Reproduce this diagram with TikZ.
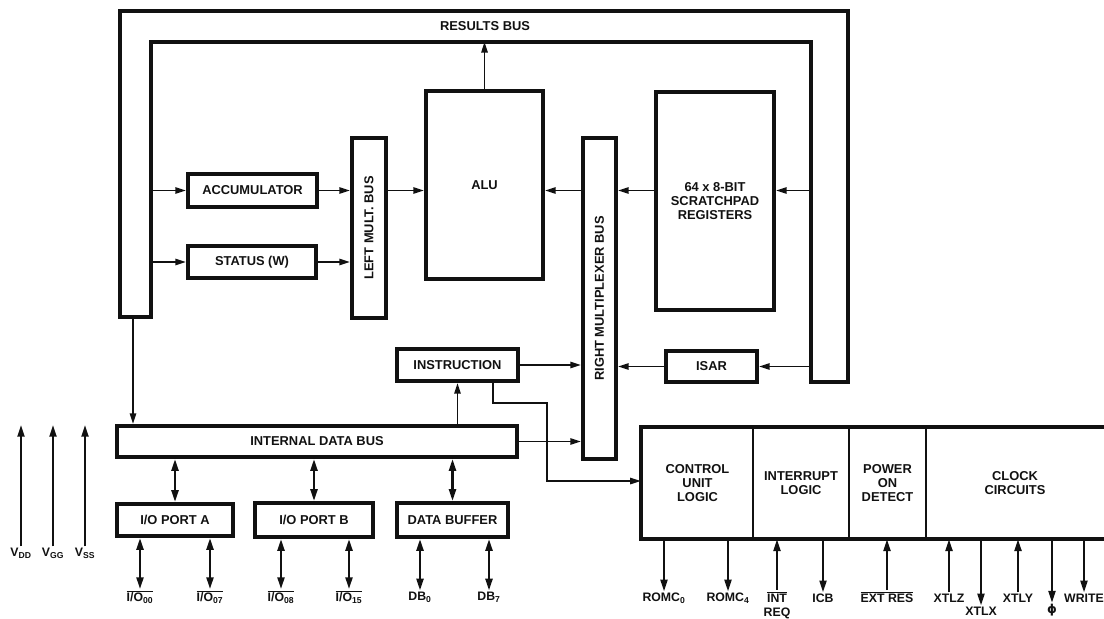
\documentclass[tikz,border=0pt]{standalone}
\usepackage{fontspec}
\setmainfont{Liberation Sans}
\newfontfamily\symfont{DejaVu Sans}
\usepackage{graphicx}
\usetikzlibrary{arrows.meta, positioning}
\definecolor{ink}{HTML}{111111}
\newcommand{\lbl}{\bfseries\fontsize{11}{12}\selectfont}
\newcommand{\pinfont}{\bfseries\fontsize{10.5}{12}\selectfont}
\newcommand{\barlbl}[1]{$\overline{\hbox{#1}}$}
\tikzset{
  blk/.style={draw=ink, line width=3.6pt, inner sep=0pt, align=center, font=\lbl, text=ink},
  sz/.style 2 args={minimum width=#1*0.03cm, minimum height=#2*0.03cm},
  secbox/.style={draw=ink, line width=2.2pt, inner sep=0pt, align=center, font=\lbl, text=ink},
  busline/.style={draw=ink, line width=3.6pt, line join=miter},
  arr/.style={-{Triangle[length=9pt,width=5.5pt]}, line width=1.2pt, draw=ink},
  dbl/.style={{Triangle[length=10pt,width=6pt]}-{Triangle[length=10pt,width=6pt]}, line width=1.9pt, draw=ink},
  pwr/.style={-{Triangle[length=10pt,width=6pt]}, line width=1.7pt, draw=ink},
  pinlbl/.style={font=\pinfont, text=ink, inner sep=1pt, align=center},
}

\begin{document}
\begin{tikzpicture}[x=0.03cm, y=-0.03cm]
  \useasboundingbox (0,0) rectangle (1104,618);

  % results bus
  \draw[busline] (120,317) -- (120,11) -- (848,11) -- (848,382) -- (811,382)
    -- (811,42) -- (151,42) -- (151,317) -- cycle;
  \node[font=\lbl, text=ink] (rbus) at (485,26) {RESULTS BUS};
  \coordinate (lleg) at (151,317);
  \coordinate (lfoot) at (133,317);
  \coordinate (rleg) at (811,382);
  \coordinate (rtop) at (484,42);

  % registers and buses
  \node[blk, sz={129}{33}] (acc) at (252.5,190.5) {ACCUMULATOR};
  \node[blk, sz={128}{32}] (st) at (252,262) {STATUS (W)};
  \node[blk, sz={34}{180}] (lmb) at (369,228) {\rotatebox{90}{LEFT MULT. BUS}};
  \node[blk, sz={117}{188}] (alu) at (484.5,185) {ALU};
  \node[blk, sz={33}{321}] (rmb) at (599.5,298.5) {\rotatebox{90}{RIGHT MULTIPLEXER BUS}};
  \node[blk, sz={118}{218}] (scr) at (715,201) {64 x 8-BIT\\SCRATCHPAD\\REGISTERS};
  \node[blk, sz={91}{31}] (isar) at (711.5,366.5) {ISAR};
  \node[blk, sz={121}{32}] (instr) at (457.5,365) {INSTRUCTION};
  \node[blk, sz={400}{31}] (idb) at (317,441.5) {INTERNAL DATA BUS};

  % ports
  \node[blk, sz={116}{32}] (pa) at (175,520) {I/O PORT A};
  \node[blk, sz={118}{34}] (pb) at (314,520) {I/O PORT B};
  \node[blk, sz={111}{34}] (dbuf) at (452.5,520) {DATA BUFFER};

  % control section
  \node[secbox, sz={111}{110}] (cul) at (697.5,483) {CONTROL\\UNIT\\LOGIC};
  \node[secbox, sz={96}{110}] (intl) at (801,483) {INTERRUPT\\LOGIC};
  \node[secbox, sz={77}{110}] (pod) at (887.5,483) {POWER\\ON\\DETECT};
  \node[secbox, draw=none, sz={178}{110}] (clk) at (1015,483) {CLOCK\\CIRCUITS};
  \draw[busline] (clk.north east) -- (cul.north west) -- (cul.south west) -- (clk.south east);

  % data paths
  \draw[arr] (alu.north) -- (alu.north |- rtop);
  \draw[arr] (acc.west -| lleg) -- (acc.west);
  \draw[arr] (st.west -| lleg) -- (st.west);
  \draw[arr] (acc.east) -- (acc.east -| lmb.west);
  \draw[arr] (st.east) -- (st.east -| lmb.west);
  \draw[arr] (lmb.east |- acc) -- (alu.west |- acc);
  \draw[arr] (rmb.west |- acc) -- (alu.east |- acc);
  \draw[arr] (scr.west |- acc) -- (rmb.east |- acc);
  \draw[arr] (rleg |- acc) -- (scr.east |- acc);
  \draw[arr] (rleg |- isar) -- (isar.east);
  \draw[arr] (isar.west) -- (isar.west -| rmb.east);
  \draw[arr] (instr.east) -- (instr.east -| rmb.west);
  \draw[arr] (idb.east) -- (idb.east -| rmb.west);
  \draw[arr] (lfoot) -- (lfoot |- idb.north);
  \draw[arr] (idb.north -| instr) -- (instr.south);

  \coordinate (tap) at (493,403);
  \coordinate (turn) at (547,481);
  \draw[arr] (instr.south -| tap) -- (tap) -| (turn) -- (turn -| cul.west);

  \draw[dbl] (idb.south -| pa) -- (pa.north);
  \draw[dbl] (idb.south -| pb) -- (pb.north);
  \draw[dbl] (idb.south -| dbuf) -- (dbuf.north);

  % supply pins
  \coordinate (ptop) at (0,425);
  \node[pinlbl] (vdd) at (21,553) {V\textsubscript{DD}};
  \node[pinlbl] (vgg) at (53,553) {V\textsubscript{GG}};
  \node[pinlbl] (vss) at (85,553) {V\textsubscript{SS}};
  \draw[pwr] (vdd.north) -- (vdd.north |- ptop);
  \draw[pwr] (vgg.north) -- (vgg.north |- ptop);
  \draw[pwr] (vss.north) -- (vss.north |- ptop);

  % port pins
  \node[pinlbl] (io00) at (140,597) {\barlbl{I/O\textsubscript{00}}};
  \node[pinlbl] (io07) at (210,597) {\barlbl{I/O\textsubscript{07}}};
  \node[pinlbl] (io08) at (281,597) {\barlbl{I/O\textsubscript{08}}};
  \node[pinlbl] (io15) at (349,597) {\barlbl{I/O\textsubscript{15}}};
  \node[pinlbl] (db0) at (420,597) {DB\textsubscript{0}};
  \node[pinlbl] (db7) at (489,597) {DB\textsubscript{7}};
  \draw[dbl] (pa.south -| io00) -- (io00.north);
  \draw[dbl] (pa.south -| io07) -- (io07.north);
  \draw[dbl] (pb.south -| io08) -- (io08.north);
  \draw[dbl] (pb.south -| io15) -- (io15.north);
  \draw[dbl] (dbuf.south -| db0) -- (db0.north);
  \draw[dbl] (dbuf.south -| db7) -- (db7.north);

  % control pins
  \node[pinlbl] (romc0) at (664,598) {ROMC\textsubscript{0}};
  \node[pinlbl] (romc4) at (728,598) {ROMC\textsubscript{4}};
  \node[pinlbl] (intreq) at (777,605) {\barlbl{INT}\\REQ};
  \node[pinlbl] (icb) at (823,598) {ICB};
  \node[pinlbl] (extres) at (887,597) {\barlbl{EXT RES}};
  \node[pinlbl] (xtlz) at (949,598) {XTLZ};
  \node[pinlbl] (xtlx) at (981,611) {XTLX};
  \node[pinlbl] (xtly) at (1018,598) {XTLY};
  \node[pinlbl] (phi) at (1052,610) {\symfont\bfseries ϕ};
  \node[pinlbl] (wr) at (1084,598) {WRITE};
  \draw[pwr] (cul.south -| romc0) -- (romc0.north);
  \draw[pwr] (cul.south -| romc4) -- (romc4.north);
  \draw[pwr] (intreq.north) -- (intreq.north |- intl.south);
  \draw[pwr] (intl.south -| icb) -- (icb.north);
  \draw[pwr] (extres.north) -- (extres.north |- pod.south);
  \draw[pwr] (xtlz.north) -- (xtlz.north |- clk.south);
  \draw[pwr] (clk.south -| xtlx) -- (xtlx.north);
  \draw[pwr] (xtly.north) -- (xtly.north |- clk.south);
  \draw[pwr] (clk.south -| phi) -- (phi.north);
  \draw[pwr] (clk.south -| wr) -- (wr.north);
\end{tikzpicture}
\end{document}
